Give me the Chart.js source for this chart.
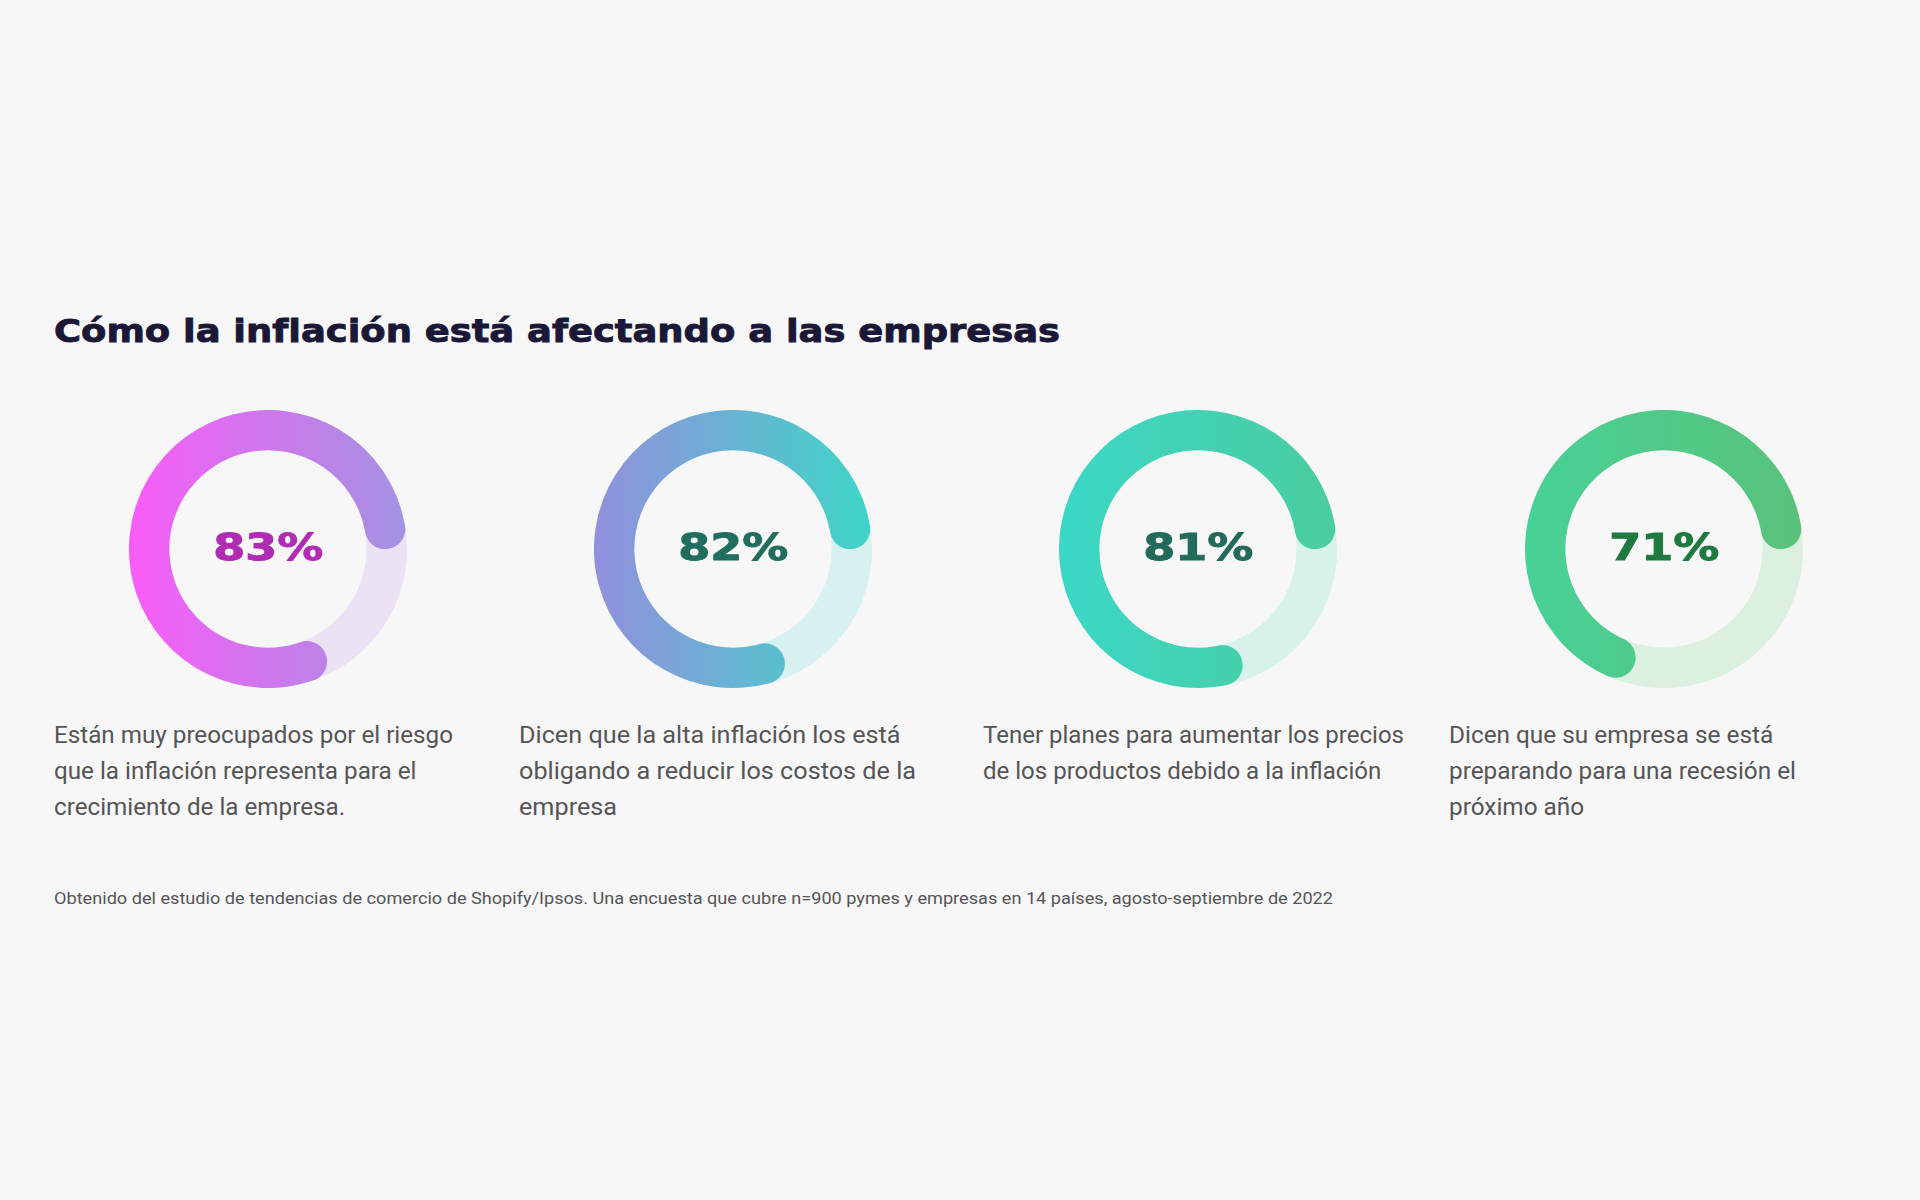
<!DOCTYPE html>
<html lang="es">
<head>
<meta charset="utf-8">
<title>Cómo la inflación está afectando a las empresas</title>
<script src="https://cdn.jsdelivr.net/npm/chart.js@4.4.1/dist/chart.umd.min.js"></script>
<style>
  body { margin: 0; width: 1920px; height: 1200px; background: #f7f7f7; position: relative; overflow: hidden; font-family: Roboto, "Noto Sans", sans-serif; }
  #titulo { position: absolute; left: 54px; top: 315px; margin: 0; font: bold 32px/32px "DejaVu Sans", sans-serif; color: #1b1737; -webkit-text-stroke: 0.9px #1b1737; white-space: nowrap; transform-origin: 0 0; }
  .dona { position: absolute; width: 278px; height: 278px; }
  .pct { position: absolute; font: bold 37px/37px "DejaVu Sans", sans-serif; white-space: nowrap; transform-origin: 50% 50%; -webkit-text-stroke: 1px currentColor; }
  .desc { position: absolute; top: 718px; margin: 0; font-size: 23px; line-height: 36px; color: #555; white-space: nowrap; transform-origin: 0 0; }
  #fuente { position: absolute; left: 54px; top: 889px; margin: 0; font-size: 16px; line-height: 20px; color: #555; white-space: nowrap; transform-origin: 0 0; }
</style>
</head>
<body>
<h1 id="titulo">Cómo la inflación está afectando a las empresas</h1>
<p id="fuente">Obtenido del estudio de tendencias de comercio de Shopify/Ipsos. Una encuesta que cubre n=900 pymes y empresas en 14 países, agosto-septiembre de 2022</p>

<script>
// datos
var porcentajes = [83, 82, 81, 71];
var descripciones = [
    ["Están muy preocupados por el riesgo", "que la inflación representa para el", "crecimiento de la empresa."],
    ["Dicen que la alta inflación los está", "obligando a reducir los costos de la", "empresa"],
    ["Tener planes para aumentar los precios", "de los productos debido a la inflación"],
    ["Dicen que su empresa se está", "preparando para una recesión el", "próximo año"]
];

// estilos de cada dona
var gradientes = [["#f95cf8", "#a293e1"], ["#9290de", "#3ed6c8"], ["#3bd8c7", "#4acc9f"], ["#47d197", "#59c27a"]];
var pistas = ["#ebe2f5", "#d6f1ef", "#d7f2ea", "#dcf0e2"];
var coloresTexto = ["#b02db3", "#226e5e", "#226b5a", "#1f7a40"];
var centrosX = [268, 733, 1198, 1664];
var centroY = 549;
var columnasX = [54, 519, 983, 1449];

// dibuja el anillo de fondo completo debajo del arco
var pistaPlugin = {
    id: 'pista',
    beforeDatasetsDraw: function (chart) {
        var arc = chart.getDatasetMeta(0).data[0];
        if (!arc) return;
        var ctx = chart.ctx;
        ctx.save();
        ctx.beginPath();
        ctx.arc(arc.x, arc.y, arc.outerRadius, 0, Math.PI * 2);
        ctx.arc(arc.x, arc.y, arc.innerRadius, 0, Math.PI * 2, true);
        ctx.fillStyle = pistas[chart.options.indice];
        ctx.fill();
        ctx.restore();
    }
};

function ajustarAncho(el, ancho) {
    var real = el.getBoundingClientRect().width;
    el.style.transform = 'scaleX(' + (ancho / real) + ')';
}

porcentajes.forEach(function (valor, i) {
    var caja = document.createElement('div');
    caja.className = 'dona';
    caja.style.left = (centrosX[i] - 139) + 'px';
    caja.style.top = (centroY - 139) + 'px';
    var canvas = document.createElement('canvas');
    caja.appendChild(canvas);
    document.body.appendChild(caja);

    new Chart(canvas.getContext('2d'), {
        type: 'doughnut',
        data: {
            labels: ['Resto', 'Porcentaje'],
            datasets: [{
                data: [100 - valor, valor],
                backgroundColor: function (c) {
                    if (c.dataIndex === 0) return pistas[i];
                    var area = c.chart.chartArea;
                    if (!area) return gradientes[i][0];
                    var g = c.chart.ctx.createLinearGradient(area.left, 0, area.right, 0);
                    g.addColorStop(0, gradientes[i][0]);
                    g.addColorStop(1, gradientes[i][1]);
                    return g;
                },
                borderWidth: 0,
                borderRadius: function (c) { return c.dataIndex === 1 ? 20 : 0; }
            }]
        },
        options: {
            indice: i,
            responsive: true,
            maintainAspectRatio: false,
            animation: false,
            events: [],
            rotation: 90,
            cutout: '71%',
            layout: { padding: 0 },
            plugins: { legend: { display: false }, tooltip: { enabled: false } }
        },
        plugins: [pistaPlugin]
    });

    var pct = document.createElement('div');
    pct.className = 'pct';
    pct.textContent = valor + '%';
    pct.style.color = coloresTexto[i];
    document.body.appendChild(pct);
    var w = pct.getBoundingClientRect().width;
    pct.style.left = (centrosX[i] - w / 2) + 'px';
    pct.style.top = (547 - 18) + 'px';
    ajustarAncho(pct, 110);

    var p = document.createElement('p');
    p.className = 'desc';
    p.style.left = columnasX[i] + 'px';
    p.innerHTML = descripciones[i].join('<br>');
    document.body.appendChild(p);
});

ajustarAncho(document.getElementById('titulo'), 1006);
ajustarAncho(document.getElementById('fuente'), 1279);
ajustarAncho(document.querySelectorAll('.desc')[0], 399);
ajustarAncho(document.querySelectorAll('.desc')[1], 397);
ajustarAncho(document.querySelectorAll('.desc')[2], 421);
ajustarAncho(document.querySelectorAll('.desc')[3], 347);
</script>
</body>
</html>
